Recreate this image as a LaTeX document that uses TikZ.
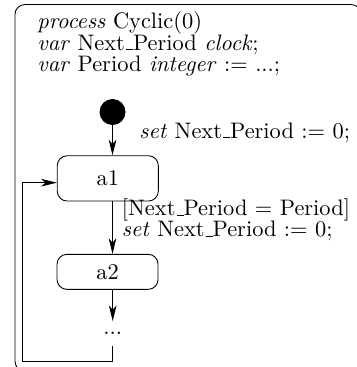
\documentclass[tikz,border=0pt]{standalone}
\usepackage{tikz}
\usetikzlibrary{arrows.meta,positioning,calc}
\newcommand{\uscore}{\leavevmode\kern.06em\vbox{\hrule width.3em}}

\begin{document}
\begin{tikzpicture}[
  statebox/.style={draw,rounded corners=4.4pt,minimum width=1.584cm,inner sep=0pt},
  initdot/.style={circle,fill=black,minimum size=0.408cm,inner sep=0pt},
  flow/.style={-{Stealth[length=7pt,width=3.4pt,inset=2pt]}},
  textline/.style={anchor=base west,inner sep=0pt,align=left,
    font=\fontsize{10}{9.6}\selectfont}
]
  \useasboundingbox (0,0) rectangle (5.597,-5.754);
  \draw[rounded corners=4.4pt] (0.235,-0.071) rectangle (5.660,-5.817);
  % declarations (base = last line)
  \node[textline] (decl) at (0.580,-1.124) {
    \textit{process} Cyclic(0)\\
    \textit{var} Next\uscore Period \textit{clock};\\
    \textit{var} Period \textit{integer} := ...;
  };
  % states
  \node[initdot] (init) at (1.764,-1.756) {};
  \node[statebox,minimum height=0.710cm] (a1) at (1.690,-2.797) {a1};
  \node[statebox,minimum height=0.549cm] (a2) at (1.686,-4.262) {a2};
  \node[inner sep=0pt,minimum height=0.376cm] (dots) at (1.767,-5.229) {...};
  \coordinate (loop) at (0.356,-5.668);
  % transitions
  \draw[flow] (init) -- (init |- a1.north);
  \draw[flow] (a1.south -| init) -- (a2.north -| init);
  \draw[flow] (a2.south -| dots) -- (dots.north);
  \draw[flow] (dots.south) |- (loop) |- ([yshift=-0.067cm]a1.west);
  % labels
  \node[textline] (act0) at (2.179,-2.164) {\textit{set} Next\uscore Period := 0;};
  \node[textline] (guard) at (1.905,-3.379) {[Next\uscore Period = Period]};
  \node[textline] (act1) at (1.905,-3.711) {\textit{set} Next\uscore Period := 0;};
\end{tikzpicture}
\end{document}
